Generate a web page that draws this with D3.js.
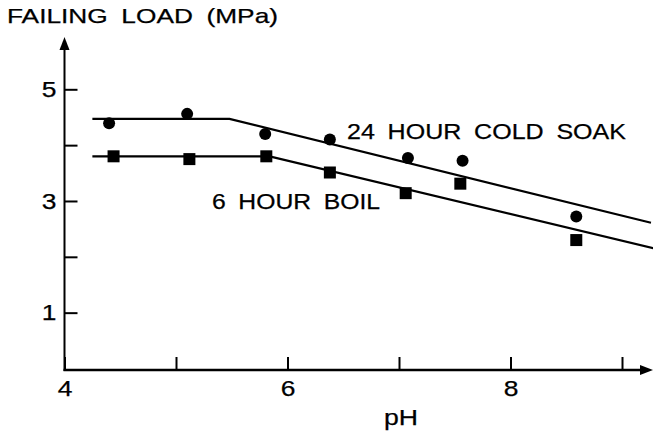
<!DOCTYPE html>
<html>
<head>
<meta charset="utf-8">
<script src="https://cdn.jsdelivr.net/npm/d3@7"></script>
<style>
  body { margin: 0; background: #fff; }
  text { font-family: "Liberation Sans", Arial, Helvetica, sans-serif; fill: #000; stroke: #000; stroke-width: 0.25px; }
</style>
</head>
<body>
<div id="chart"></div>
<script>
// measured points
var soakPH = [4.40, 5.10, 5.80, 6.38, 7.08, 7.57, 8.59];
var soakLoad = [4.39, 4.56, 4.20, 4.10, 3.77, 3.72, 2.72];
var boilPH = [4.44, 5.12, 5.81, 6.38, 7.06, 7.55, 8.59];
var boilLoad = [3.80, 3.75, 3.80, 3.51, 3.14, 3.31, 2.30];

// fitted lines (pH, load)
var soakFitPH = [4.25, 5.48, 9.26];
var soakFitLoad = [4.47, 4.47, 2.61];
var boilFitPH = [4.25, 5.84, 9.29];
var boilFitLoad = [3.80, 3.80, 2.15];

var xTicks = [4, 5, 6, 7, 8, 9];
var xLabels = {4: "4", 6: "6", 8: "8"};
var yTicks = [1, 2, 3, 4, 5];
var yLabels = {1: "1", 3: "3", 5: "5"};

var width = 653, height = 431;

var svg = d3.select("#chart").append("svg")
    .attr("width", width)
    .attr("height", height);

var x = d3.scaleLinear().domain([4, 9]).range([64.5, 622]);
var y = d3.scaleLinear().domain([0, 5]).range([368.5, 89.3]);

var axisY = 370;  // baseline of x axis
var axisX = x(4);

// the scanned lettering is wider than Arial, stretch the glyphs
function widen(sel, factor) {
  sel.each(function() {
    var t = d3.select(this);
    if (!t.text()) return;
    var w = this.getComputedTextLength();
    t.attr("textLength", w * factor).attr("lengthAdjust", "spacingAndGlyphs");
  });
}

// x axis
var xAxis = d3.axisBottom(x)
    .tickValues(xTicks)
    .tickSizeInner(-13)
    .tickSizeOuter(0)
    .tickPadding(10)
    .tickFormat(function(d){ return xLabels[d] || ""; });

var gx = svg.append("g")
    .attr("transform", "translate(0," + axisY + ")")
    .call(xAxis);
gx.select(".domain").remove();
gx.selectAll("line").attr("stroke", "#000").attr("stroke-width", 2);
gx.selectAll("text")
    .attr("font-size", 22)
    .attr("dy", "0.71em")
    .call(widen, 1.2);

// y axis
var yAxis = d3.axisLeft(y)
    .tickValues(yTicks)
    .tickSizeInner(-13)
    .tickSizeOuter(0)
    .tickPadding(8)
    .tickFormat(function(d){ return yLabels[d] || ""; });

var gy = svg.append("g")
    .attr("transform", "translate(" + axisX + ",0)")
    .call(yAxis);
gy.select(".domain").remove();
gy.selectAll("line").attr("stroke", "#000").attr("stroke-width", 2);
gy.selectAll("text")
    .attr("font-size", 22)
    .call(widen, 1.2);

// axis lines with arrows
svg.append("line")
    .attr("x1", axisX).attr("y1", axisY + 1)
    .attr("x2", axisX).attr("y2", 46)
    .attr("stroke", "#000").attr("stroke-width", 2);
svg.append("path")
    .attr("d", "M" + axisX + ",37 L" + (axisX - 5) + ",50 L" + (axisX + 5) + ",50 Z")
    .attr("fill", "#000");

svg.append("line")
    .attr("x1", axisX - 1).attr("y1", axisY)
    .attr("x2", 644).attr("y2", axisY)
    .attr("stroke", "#000").attr("stroke-width", 2.4);
svg.append("path")
    .attr("d", "M653," + axisY + " L640," + (axisY - 5) + " L640," + (axisY + 5) + " Z")
    .attr("fill", "#000");

// fitted lines
var line = d3.line()
    .x(function(d){ return x(d[0]); })
    .y(function(d){ return y(d[1]); });

svg.append("path")
    .datum(d3.zip(soakFitPH, soakFitLoad))
    .attr("d", line)
    .attr("fill", "none")
    .attr("stroke", "#000")
    .attr("stroke-width", 2.2);

svg.append("path")
    .datum(d3.zip(boilFitPH, boilFitLoad))
    .attr("d", line)
    .attr("fill", "none")
    .attr("stroke", "#000")
    .attr("stroke-width", 2.2);

// points
svg.selectAll("circle.soak")
    .data(d3.zip(soakPH, soakLoad))
    .enter()
    .append("circle")
    .attr("class", "soak")
    .attr("cx", function(d){ return x(d[0]); })
    .attr("cy", function(d){ return y(d[1]); })
    .attr("r", 6)
    .attr("fill", "#000");

var sq = 12;
svg.selectAll("rect.boil")
    .data(d3.zip(boilPH, boilLoad))
    .enter()
    .append("rect")
    .attr("class", "boil")
    .attr("x", function(d){ return x(d[0]) - sq / 2; })
    .attr("y", function(d){ return y(d[1]) - sq / 2; })
    .attr("width", sq)
    .attr("height", sq)
    .attr("fill", "#000");

// labels
function label(txt, lx, ly, size, len) {
  svg.append("text")
      .attr("x", lx).attr("y", ly)
      .attr("font-size", size)
      .style("word-spacing", "5px")
      .attr("textLength", len)
      .attr("lengthAdjust", "spacingAndGlyphs")
      .text(txt);
}

label("FAILING LOAD (MPa)", 7, 23, 21, 271);
label("24 HOUR COLD SOAK", 347, 138.5, 21.5, 279);
label("6 HOUR BOIL", 212, 208.5, 21.5, 168);
label("pH", 384, 424.5, 21.5, 34);
</script>
</body>
</html>
